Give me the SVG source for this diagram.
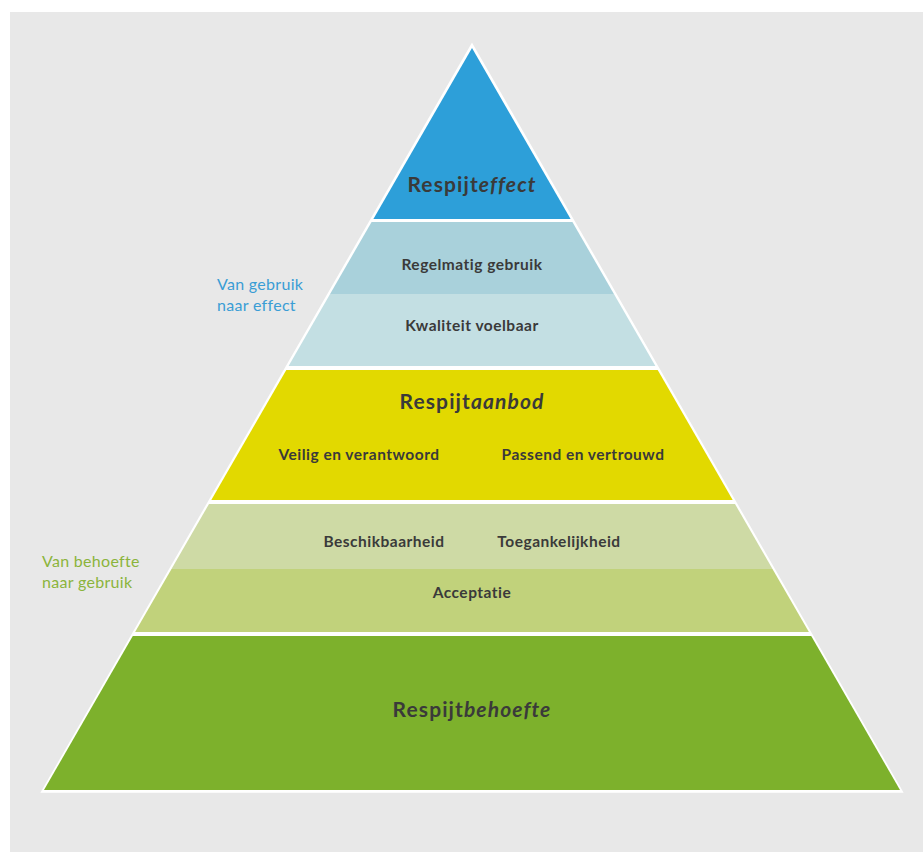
<svg xmlns="http://www.w3.org/2000/svg" width="923" height="852" viewBox="0 0 923 852">
<style>
.lbl{font-family:Lato,"Open Sans","Liberation Sans",sans-serif;font-weight:bold;fill:#3a3a3a;text-anchor:middle;font-size:15.5px;letter-spacing:0.5px}
.ttl{font-family:Lato,"Open Sans","Liberation Sans",sans-serif;font-weight:bold;fill:#3a3a3a;text-anchor:middle;font-size:21px;letter-spacing:1.1px}
.it{font-style:italic}
.side{font-family:Lato,"Open Sans","Liberation Sans",sans-serif;font-size:16px;letter-spacing:0.3px}
.layer{stroke:none}
</style>
<rect x="0" y="0" width="923" height="852" fill="#ffffff"/>
<rect x="10" y="12" width="913" height="840" fill="#e8e8e8"/>
<polygon points="472,45 901.5,791.5 42.5,791.5" fill="#ffffff" stroke="#ffffff" stroke-width="2.5" stroke-linejoin="miter"/>
<g id="respijteffect">
<polygon class="layer" points="472,48 570.6,219 373.4,219" fill="#2d9fd9"/>
<text class="ttl" x="472" y="192">Respijt<tspan class="it">effect</tspan></text>
</g>
<g id="regelmatig-gebruik">
<polygon class="layer" points="371.6,222 572.4,222 613.9,294 330.1,294" fill="#a9d1db"/>
<text class="lbl" x="472" y="270">Regelmatig gebruik</text>
</g>
<g id="kwaliteit-voelbaar">
<polygon class="layer" points="330.1,294 613.9,294 655.4,366 288.6,366" fill="#c3dfe3"/>
<text class="lbl" x="472" y="331">Kwaliteit voelbaar</text>
</g>
<g id="respijtaanbod">
<polygon class="layer" points="286.3,370 657.7,370 732.7,500 211.3,500" fill="#e2d900"/>
<text class="ttl" x="472" y="409">Respijt<tspan class="it">aanbod</tspan></text>
<text class="lbl" x="359" y="460">Veilig en verantwoord</text>
<text class="lbl" x="583" y="460">Passend en vertrouwd</text>
</g>
<g id="beschikbaarheid-toegankelijkheid">
<polygon class="layer" points="209,504 735,504 772.5,569 171.5,569" fill="#cedaa5"/>
<text class="lbl" x="384" y="547">Beschikbaarheid</text>
<text class="lbl" x="559" y="547">Toegankelijkheid</text>
</g>
<g id="acceptatie">
<polygon class="layer" points="171.5,569 772.5,569 808.9,632 135.1,632" fill="#c1d27b"/>
<text class="lbl" x="472" y="598">Acceptatie</text>
</g>
<g id="respijtbehoefte">
<polygon class="layer" points="132.8,636 811.2,636 900,790 44,790" fill="#7db12c"/>
<text class="ttl" x="472" y="717">Respijt<tspan class="it">behoefte</tspan></text>
</g>
<g id="van-gebruik-naar-effect">
<text class="side" fill="#3a9dd5" x="217" y="290">Van gebruik</text>
<text class="side" fill="#3a9dd5" x="217" y="311">naar effect</text>
</g>
<g id="van-behoefte-naar-gebruik">
<text class="side" fill="#8bb43c" x="42" y="567">Van behoefte</text>
<text class="side" fill="#8bb43c" x="42" y="588">naar gebruik</text>
</g>
<g id="connectors"></g>
</svg>
